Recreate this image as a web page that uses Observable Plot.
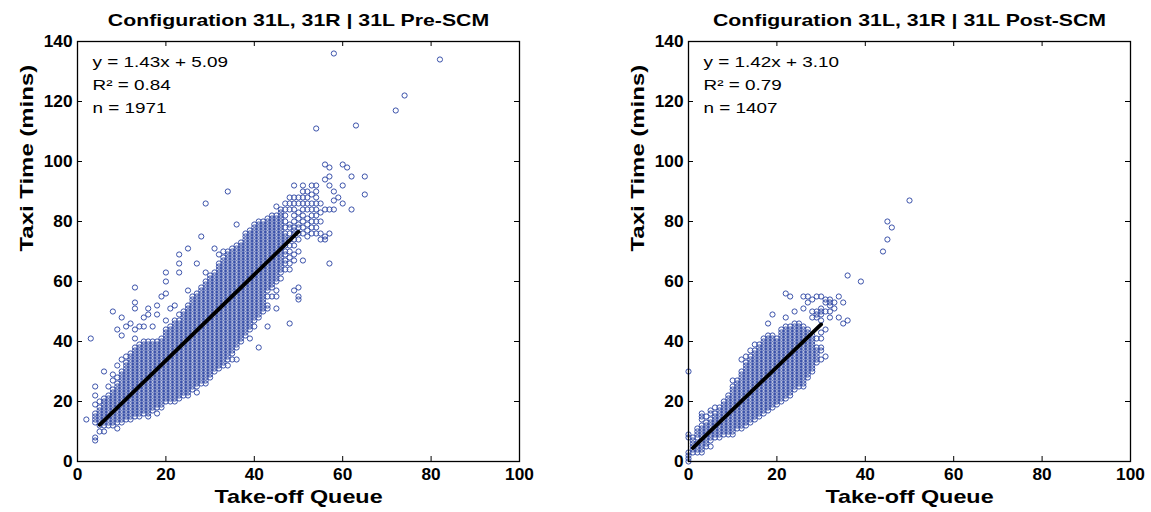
<!DOCTYPE html>
<html><head><meta charset="utf-8">
<script src="https://cdn.jsdelivr.net/npm/d3@7"></script>
<script src="https://cdn.jsdelivr.net/npm/@observablehq/plot@0.6"></script>
<style>
body{margin:0;background:#fff}
#wrap{display:flex;width:1151px;height:512px;overflow:hidden}
svg{font-family:"Liberation Sans",Arial,Helvetica,sans-serif}
</style>
</head><body><div id="wrap"></div>
<script>
// ---- Data: [take-off queue, [taxi times (mins) observed at that queue length]] ----
const preSCM = [
 [2,[14]],
 [3,[41]],
 [4,[7,8,13,14,15,16,19,22,25]],
 [5,[10,12,13,14,15,16,17,18,20]],
 [6,[10,12,13,14,15,16,17,18,19,20,21,30]],
 [7,[12,13,14,15,16,17,18,19,20,21,22,25]],
 [8,[12,13,14,15,16,17,18,19,20,21,22,23,24,27,29,50]],
 [9,[11,13,14,15,16,17,18,19,20,21,22,23,24,25,26,28,32,44]],
 [10,[13,14,15,16,17,18,19,20,21,22,23,24,25,26,27,28,29,30,34,42,48]],
 [11,[14,15,16,17,18,19,20,21,22,23,24,25,26,27,28,29,30,31,32,33,35,45]],
 [12,[14,15,16,17,18,19,20,21,22,23,24,25,26,27,28,29,30,31,32,33,34,35,36,46]],
 [13,[15,16,17,18,19,20,21,22,23,24,25,26,27,28,29,30,31,32,33,34,35,36,37,38,41,44,51,53,58]],
 [14,[15,16,17,18,19,20,21,22,23,24,25,26,27,28,29,30,31,32,33,34,35,36,37,38,39,45]],
 [15,[16,17,18,19,20,21,22,23,24,25,26,27,28,29,30,31,32,33,34,35,36,37,38,39,40,45,48]],
 [16,[15,16,17,18,19,20,21,22,23,24,25,26,27,28,29,30,31,32,33,34,35,36,37,38,39,40,49,51]],
 [17,[17,18,19,20,21,22,23,24,25,26,27,28,29,30,31,32,33,34,35,36,37,38,39,40,45]],
 [18,[16,18,19,20,21,22,23,24,25,26,27,28,29,30,31,32,33,34,35,36,37,38,39,40,49,52]],
 [19,[18,19,20,21,22,23,24,25,26,27,28,29,30,31,32,33,34,35,36,37,38,39,40,41,55]],
 [20,[20,21,22,23,24,25,26,27,28,29,30,31,32,33,34,35,36,37,38,39,40,41,42,43,44,47,56,60,63]],
 [21,[20,21,22,23,24,25,26,27,28,29,30,31,32,33,34,35,36,37,38,39,40,41,42,43,44,45,51]],
 [22,[20,21,22,23,24,25,26,27,28,29,30,31,32,33,34,35,36,37,38,39,40,41,42,43,44,45,46,47,52]],
 [23,[21,22,23,24,25,26,27,28,29,30,31,32,33,34,35,36,37,38,39,40,41,42,43,44,45,46,47,49,63,66,69]],
 [24,[22,23,24,25,26,27,28,29,30,31,32,33,34,35,36,37,38,39,40,41,42,43,44,45,46,47,48,49,50]],
 [25,[22,23,24,25,26,27,28,29,30,31,32,33,34,35,36,37,38,39,40,41,42,43,44,45,46,47,48,49,50,51,52,57,71]],
 [26,[24,25,26,27,28,29,30,31,32,33,34,35,36,37,38,39,40,41,42,43,44,45,46,47,48,49,50,51,52,53,54,55]],
 [27,[23,25,26,27,28,29,30,31,32,33,34,35,36,37,38,39,40,41,42,43,44,45,46,47,48,49,50,51,52,53,54,55,56,66]],
 [28,[26,27,28,29,30,31,32,33,34,35,36,37,38,39,40,41,42,43,44,45,46,47,48,49,50,51,52,53,54,55,56,57,58,75]],
 [29,[26,27,28,29,30,31,32,33,34,35,36,37,38,39,40,41,42,43,44,45,46,47,48,49,50,51,52,53,54,55,56,57,58,59,60,63,86]],
 [30,[28,29,30,31,32,33,34,35,36,37,38,39,40,41,42,43,44,45,46,47,48,49,50,51,52,53,54,55,56,57,58,59,60,61,62]],
 [31,[30,31,32,33,34,35,36,37,38,39,40,41,42,43,44,45,46,47,48,49,50,51,52,53,54,55,56,57,58,59,60,61,62,63,71]],
 [32,[31,32,33,34,35,36,37,38,39,40,41,42,43,44,45,46,47,48,49,50,51,52,53,54,55,56,57,58,59,60,61,62,63,64,65,66,69]],
 [33,[32,33,34,35,36,37,38,39,40,41,42,43,44,45,46,47,48,49,50,51,52,53,54,55,56,57,58,59,60,61,62,63,64,65,66,67,68,70]],
 [34,[32,34,35,36,37,38,39,40,41,42,43,44,45,46,47,48,49,50,51,52,53,54,55,56,57,58,59,60,61,62,63,64,65,66,67,68,69,70,90]],
 [35,[34,36,37,38,39,40,41,42,43,44,45,46,47,48,49,50,51,52,53,54,55,56,57,58,59,60,61,62,63,64,65,66,67,68,69,70,71]],
 [36,[34,38,39,40,41,42,43,44,45,46,47,48,49,50,51,52,53,54,55,56,57,58,59,60,61,62,63,64,65,66,67,68,69,70,71,72,79]],
 [37,[40,41,42,43,44,45,46,47,48,49,50,51,52,53,54,55,56,57,58,59,60,61,62,63,64,65,66,67,68,69,70,71,72,73]],
 [38,[42,43,44,45,46,47,48,49,50,51,52,53,54,55,56,57,58,59,60,61,62,63,64,65,66,67,68,69,70,71,72,73,74,75,76]],
 [39,[41,44,45,46,47,48,49,50,51,52,53,54,55,56,57,58,59,60,61,62,63,64,65,66,67,68,69,70,71,72,73,74,75,76,77]],
 [40,[45,47,48,49,50,51,52,53,54,55,56,57,58,59,60,61,62,63,64,65,66,67,68,69,70,71,72,73,74,75,76,77,78,79]],
 [41,[38,48,49,50,51,52,53,54,55,56,57,58,59,60,61,62,63,64,65,66,67,68,69,70,71,72,73,74,75,76,77,78,79,80]],
 [42,[50,51,52,53,54,55,56,57,58,59,60,61,62,63,64,65,66,67,68,69,70,71,72,73,74,75,76,77,78,79,80]],
 [43,[45,51,52,55,57,58,59,60,61,62,63,64,65,66,67,68,69,70,71,72,73,74,75,76,77,78,79,80,81]],
 [44,[55,58,59,60,61,62,63,64,65,66,67,68,69,70,71,72,73,74,75,76,77,78,79,80,81,82]],
 [45,[51,55,57,60,61,62,63,64,65,66,67,68,69,70,71,72,73,74,75,76,77,78,79,80,81,82,85]],
 [46,[61,63,64,65,66,67,68,69,70,71,72,73,74,75,76,77,78,79,80,81,82,83,84]],
 [47,[64,66,67,69,70,72,73,74,75,76,78,80,82,84,86]],
 [48,[46,64,66,68,70,72,74,76,78,79,84,86,88]],
 [49,[57,67,69,72,74,76,77,78,80,82,84,86,88,92]],
 [50,[54,55,58,70,74,76,78,79,81,83,86,88]],
 [51,[67,76,78,80,82,84,86,88,90,92]],
 [52,[75,77,79,81,84,86,88,90]],
 [53,[76,78,80,82,84,86,89,92]],
 [54,[76,78,80,82,84,86,88,90,92,111]],
 [55,[74,76,80,83,86]],
 [56,[74,75,84,94,99]],
 [57,[66,76,84,92,95,98]],
 [58,[84,87,90,136]],
 [59,[88]],
 [60,[86,92,99]],
 [61,[98]],
 [62,[84,95]],
 [63,[112]],
 [65,[89,95]],
 [72,[117]],
 [74,[122]],
 [82,[134]]
];

const postSCM = [
 [0,[0,1,2,3,8,9,30]],
 [1,[3,4,5,6,7,8]],
 [2,[3,4,5,6,8,9,10,11]],
 [3,[3,4,5,6,7,8,9,10,11,12,14,15,16]],
 [4,[5,6,7,8,9,10,11,12,13,15]],
 [5,[5,7,8,9,10,11,12,13,14,16,17]],
 [6,[8,9,10,11,12,13,14,15,16,18]],
 [7,[8,9,10,11,12,13,14,15,16,17,18]],
 [8,[9,10,11,12,13,14,15,16,17,18,19,20]],
 [9,[9,10,11,12,13,14,15,16,17,18,19,20,21,22]],
 [10,[9,10,11,12,13,14,15,16,17,18,19,20,21,22,23,24,25,27]],
 [11,[11,12,13,14,15,16,17,18,19,20,21,22,23,24,25,26,27]],
 [12,[11,12,13,14,15,16,17,18,19,20,21,22,23,24,25,26,27,28,29,30,34]],
 [13,[12,13,14,15,16,17,18,19,20,21,22,23,24,25,26,27,28,29,30,31,32,33,35]],
 [14,[13,14,15,16,17,18,19,20,21,22,23,24,25,26,27,28,29,30,31,32,33,34,35,37]],
 [15,[14,15,16,17,18,19,20,21,22,23,24,25,26,27,28,29,30,31,32,33,34,35,36,37,39]],
 [16,[15,16,17,18,19,20,21,22,23,24,25,26,27,28,29,30,31,32,33,34,35,36,37,38,39]],
 [17,[16,17,18,19,20,21,22,23,24,25,26,27,28,29,30,31,32,33,34,35,36,37,38,39,40,41]],
 [18,[17,18,19,20,21,22,23,24,25,26,27,28,29,30,31,32,33,34,35,36,37,38,39,40,41,42,46]],
 [19,[18,19,20,21,22,23,24,25,26,27,28,29,30,31,32,33,34,35,36,37,38,39,40,41,42,49]],
 [20,[19,20,21,22,23,24,25,26,27,28,29,30,31,32,33,34,35,36,37,38,39,40,41]],
 [21,[20,21,22,23,24,25,26,27,28,29,30,31,32,33,34,35,36,37,38,39,40,41,42,43,44]],
 [22,[21,22,23,24,25,26,27,28,29,30,31,32,33,34,35,36,37,38,39,40,41,42,43,44,45,48,56]],
 [23,[22,23,24,25,26,27,28,29,30,31,32,33,34,35,36,37,38,39,40,41,42,43,44,45,55]],
 [24,[24,25,26,27,28,29,30,31,32,33,34,35,36,37,38,39,40,41,42,43,44,45,46,50]],
 [25,[25,26,27,28,29,30,31,32,33,34,35,36,37,38,39,40,41,42,43,44,45,46]],
 [26,[25,26,27,28,29,30,31,32,33,34,35,36,37,38,39,40,41,42,43,44,45,51,55]],
 [27,[28,29,30,31,32,33,34,35,36,37,38,39,40,41,42,43,44,53,55]],
 [28,[30,31,32,33,34,35,36,37,38,39,40,41,42,48,50,54]],
 [29,[33,34,35,36,37,38,41,48,49,50,55]],
 [30,[34,37,38,41,43,47,49,50,51,55]],
 [31,[35,44,50,53,54]],
 [32,[48,50,52,53,54]],
 [33,[51,53]],
 [34,[48,55]],
 [35,[46,53]],
 [36,[47,62]],
 [39,[60]],
 [44,[70]],
 [45,[74,80]],
 [46,[78]],
 [50,[87]]
];

// regression fits (from the printed equations) and the queue range each line spans
const preFit  = {slope: 1.43, intercept: 5.09, from: 5, to: 50};
const postFit = {slope: 1.42, intercept: 3.10, from: 1, to: 30};

const preStats  = ["y = 1.43x + 5.09", "R\u00B2 = 0.84", "n = 1971"];
const postStats = ["y = 1.42x + 3.10", "R\u00B2 = 0.79", "n = 1407"];

const titles = ["Configuration 31L, 31R | 31L Pre-SCM", "Configuration 31L, 31R | 31L Post-SCM"];
const xLabel = "Take-off Queue";
const yLabel = "Taxi Time (mins)";
const xTicks = [0, 20, 40, 60, 80, 100];
const yTicks = [0, 20, 40, 60, 80, 100, 120, 140];

const FONT = '"Liberation Sans", Arial, Helvetica, sans-serif';

// widen glyphs horizontally (the reference text is rendered wider than Arial);
// scale is appended to each text's own transform, so anchors stay in place
function widen(svg, title) {
  svg.querySelectorAll("text").forEach(t => {
    const g = t.closest("g");
    const role = g ? g.getAttribute("aria-label") || "" : "";
    const c = t.textContent;
    let s = 1;
    if (role.includes("tick label")) s = 1.08;
    else if (c === title) s = 1.33;
    else if (c.startsWith("y =")) s = 1.26;
    else if (c === xLabel) s = 1.23;
    else if (c === yLabel) s = 1.26;
    if (s === 1) return;
    const tr = t.getAttribute("transform") || "";
    t.setAttribute("transform", `${tr} scale(${s},1)`);
  });
  return svg;
}

function panel(cols, fit, title, stats, width, marginLeft, marginRight) {
  const pts = cols.flatMap(([q, ts]) => ts.map(t => ({q, t})));
  const fitLine = [fit.from, fit.to].map(q => ({q, t: fit.slope * q + fit.intercept}));
  const H = 512, mt = 41, mb = 51;
  const ph = H - mt - mb, pw = width - marginLeft - marginRight;
  const innerX = xTicks.slice(1, -1), innerY = yTicks.slice(1, -1);
  const svg = Plot.plot({
    width, height: H, marginLeft, marginRight, marginTop: mt, marginBottom: mb,
    style: {fontFamily: FONT, background: "white", color: "black", overflow: "visible"},
    x: {domain: [0, 100]},
    y: {domain: [0, 140]},
    marks: [
      Plot.dot(pts, {x: "q", y: "t", r: 2.6, stroke: "#3b52aa", strokeWidth: 1, fill: "none"}),
      Plot.line(fitLine, {x: "q", y: "t", stroke: "black", strokeWidth: 3.8}),
      Plot.frame({stroke: "black", strokeWidth: 1.3}),
      Plot.tickX(innerX, {x: d => d, insetTop: ph - 5, stroke: "black"}),
      Plot.tickX(innerX, {x: d => d, insetBottom: ph - 5, stroke: "black"}),
      Plot.tickY(innerY, {y: d => d, insetRight: pw - 5, stroke: "black"}),
      Plot.tickY(innerY, {y: d => d, insetLeft: pw - 5, stroke: "black"}),
      Plot.axisX({ticks: xTicks, tickSize: 0, tickPadding: 7, fontSize: 16, fontWeight: "bold", label: null}),
      Plot.axisY({ticks: yTicks, tickSize: 0, tickPadding: 5, fontSize: 16, fontWeight: "bold", label: null}),
      Plot.text([title], {text: d => d, frameAnchor: "top", dy: -27, fontSize: 16, fontWeight: "bold"}),
      Plot.text([stats.join("\n")], {text: d => d, frameAnchor: "top-left", textAnchor: "start", lineAnchor: "top", dx: 15, dy: 9, fontSize: 15, lineHeight: 1.53}),
      Plot.text([xLabel], {text: d => d, frameAnchor: "bottom", dy: 41, fontSize: 19, fontWeight: "bold"}),
      Plot.text([yLabel], {text: d => d, frameAnchor: "left", dx: -51, rotate: -90, fontSize: 19, fontWeight: "bold"})
    ]
  });
  return widen(svg, title);
}

const wrap = document.getElementById("wrap");
wrap.append(panel(preSCM, preFit, titles[0], preStats, 575, 77, 56));
wrap.append(panel(postSCM, postFit, titles[1], postStats, 576, 113, 21));
</script>
</body></html>
